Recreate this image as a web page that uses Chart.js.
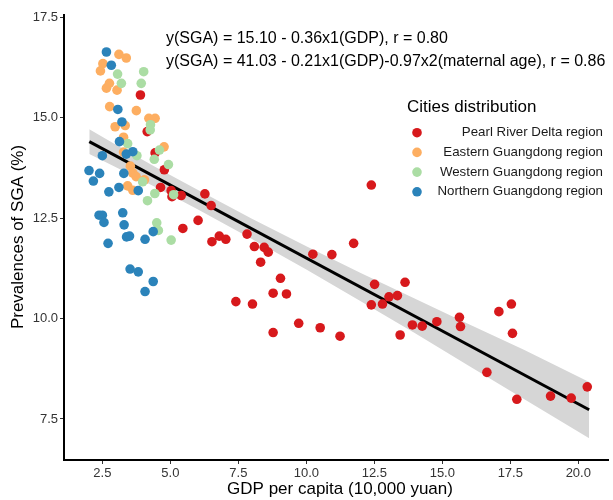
<!DOCTYPE html>
<html>
<head>
<meta charset="utf-8">
<script src="https://cdn.jsdelivr.net/npm/chart.js@4.4.1/dist/chart.umd.min.js"></script>
<style>
  html, body { margin: 0; padding: 0; background: #fff; }
  #wrap { width: 613px; height: 500px; }
</style>
</head>
<body>
<div id="wrap"><canvas id="grafico" width="613" height="500"></canvas></div>
<script>
// regiones y colores (paleta Spectral)
const regiones = ['Pearl River Delta region', 'Eastern Guangdong region', 'Western Guangdong region', 'Northern Guangdong region']
const colores = ['#D7191C', '#FDAE61', '#ABDDA4', '#2B83BA']

// Pearl River Delta
const rojoX = [3.90, 4.15, 4.44, 4.78, 4.64, 5.03, 5.06, 5.40, 6.27, 6.50, 6.02, 5.46, 6.53, 6.80, 7.04, 7.82, 8.09, 8.45, 8.60, 8.32,
  10.24, 10.94, 9.05, 8.78, 9.27, 7.41, 8.02, 9.72, 10.51, 8.78, 11.24, 12.39, 11.74, 12.51, 13.63, 13.04, 13.35, 12.39, 12.80,
  13.45, 13.90, 14.26, 14.80, 15.63, 15.67, 17.08, 17.54, 17.58, 16.64, 17.74, 18.98, 19.74, 20.33]
const rojoY = [15.56, 14.65, 14.12, 13.70, 13.26, 13.18, 13.03, 13.06, 13.10, 12.81, 12.44, 12.24, 11.91, 12.05, 11.97, 12.10, 11.79, 11.77, 11.65, 11.40,
  11.60, 11.59, 11.00, 10.63, 10.61, 10.42, 10.36, 9.88, 9.77, 9.65, 9.56, 13.32, 11.87, 10.85, 10.90, 10.54, 10.57, 10.34, 10.36,
  9.59, 9.84, 9.81, 9.92, 10.03, 9.80, 10.17, 10.36, 9.63, 8.66, 7.99, 8.07, 8.02, 8.30]

// Eastern Guangdong
const naranjaX = [3.11, 3.38, 2.52, 2.43, 2.76, 2.65, 3.04, 2.77, 3.75, 4.21, 4.44, 2.97, 3.34, 3.28, 4.77, 3.53, 3.62, 3.74, 4.05, 3.43, 3.62, 3.28]
const naranjaY = [16.57, 16.48, 16.34, 16.16, 15.85, 15.73, 15.68, 15.27, 15.17, 14.98, 14.98, 14.77, 14.80, 14.51, 14.27, 13.79, 13.62, 13.53, 13.45, 13.30, 13.19, 14.14]

// Western Guangdong
const verdeX = [3.06, 4.02, 3.20, 3.93, 4.27, 4.26, 3.43, 3.77, 4.60, 4.41, 4.93, 3.98, 4.43, 4.16, 5.12, 4.50, 4.56, 5.03]
const verdeY = [16.08, 16.14, 15.85, 15.85, 14.82, 14.69, 14.35, 14.05, 14.19, 13.96, 13.83, 13.40, 13.11, 12.93, 13.08, 12.38, 12.19, 11.95]

// Northern Guangdong
const azulX = [2.65, 2.83, 3.07, 3.22, 3.13, 3.62, 3.38, 2.50, 2.01, 2.40, 2.17, 3.29, 3.11, 2.74, 3.82, 2.38, 2.50, 2.56, 3.25, 3.30,
  3.39, 3.50, 2.71, 4.07, 4.37, 3.52, 3.82, 4.37, 4.07]
const azulY = [16.63, 16.30, 15.20, 14.89, 14.40, 14.15, 14.09, 14.05, 13.68, 13.61, 13.42, 13.61, 13.26, 13.15, 13.18, 12.57, 12.57, 12.39, 12.63, 12.33,
  12.03, 12.05, 11.87, 11.97, 12.16, 11.23, 11.16, 10.92, 10.67]

// recta de regresion y banda de confianza
const rectaX = [2.02, 20.40]
const rectaY = [14.40, 7.73]
const bandaX = [2.02, 3, 4.5, 6, 8, 10, 12, 14, 16, 18, 20.40]
const bandaArriba = [14.71, 14.32, 13.75, 13.20, 12.48, 11.80, 11.13, 10.49, 9.85, 9.22, 8.42]
const bandaAbajo = [14.09, 13.76, 13.25, 12.72, 11.98, 11.22, 10.43, 9.63, 8.81, 8.00, 7.02]

const ticksX = [2.5, 5.0, 7.5, 10.0, 12.5, 15.0, 17.5, 20.0]
const ticksY = [7.5, 10.0, 12.5, 15.0, 17.5]

const textos = ['y(SGA) = 15.10 - 0.36x1(GDP), r = 0.80', 'y(SGA) = 41.03 - 0.21x1(GDP)-0.97x2(maternal age), r = 0.86']

const fuente = '"Liberation Sans", Arial, sans-serif'

const puntos = (xs, ys) => xs.map((x, i) => ({ x: x, y: ys[i] }))

const serie = (i, xs, ys, orden) => ({
    label: regiones[i],
    data: puntos(xs, ys),
    backgroundColor: colores[i],
    borderWidth: 0,
    pointRadius: 4.8,
    order: orden
})

const extras = {
    id: 'extras',
    afterDraw(chart) {
        const c = chart.ctx
        c.save()
        c.fillStyle = '#000'
        c.textBaseline = 'middle'
        // ecuaciones
        c.font = '16px ' + fuente
        c.textAlign = 'left'
        c.fillText(textos[0], 166, 39)
        c.fillText(textos[1], 166, 62)
        // leyenda
        c.font = '17px ' + fuente
        c.fillText('Cities distribution', 407, 107)
        c.font = '13.3px ' + fuente
        c.textAlign = 'right'
        regiones.forEach((r, i) => {
            const y = 132.7 + i * 19.7
            c.fillStyle = colores[i]
            c.beginPath()
            c.arc(417, y, 4.8, 0, Math.PI * 2)
            c.fill()
            c.fillStyle = '#1a1a1a'
            c.fillText(r, 603, y)
        })
        // titulos de ejes
        c.fillStyle = '#000'
        c.font = '17px ' + fuente
        c.textAlign = 'center'
        c.fillText('GDP per capita (10,000 yuan)', 340, 489)
        c.translate(18, 237)
        c.rotate(-Math.PI / 2)
        c.fillText('Prevalences of SGA (%)', 0, 0)
        c.restore()
    }
}

const config = {
    type: 'scatter',
    data: {
        datasets: [
            serie(3, azulX, azulY, 1),
            serie(2, verdeX, verdeY, 2),
            serie(1, naranjaX, naranjaY, 3),
            serie(0, rojoX, rojoY, 4),
            {
                type: 'line',
                data: puntos(rectaX, rectaY),
                borderColor: '#000',
                borderWidth: 3,
                pointRadius: 0,
                order: 5
            },
            {
                type: 'line',
                data: puntos(bandaX, bandaArriba),
                borderWidth: 0,
                borderColor: 'rgba(0,0,0,0)',
                backgroundColor: '#D6D6D6',
                pointRadius: 0,
                fill: 6,
                order: 6
            },
            {
                type: 'line',
                data: puntos(bandaX, bandaAbajo),
                borderWidth: 0,
                borderColor: 'rgba(0,0,0,0)',
                pointRadius: 0,
                fill: false,
                order: 7
            }
        ]
    },
    options: {
        responsive: false,
        animation: false,
        layout: { padding: { top: 15, left: 0, right: 0, bottom: 0 } },
        plugins: { legend: { display: false }, tooltip: { enabled: false } },
        scales: {
            x: {
                type: 'linear',
                min: 1.09,
                max: 21.1,
                afterBuildTicks: (s) => { s.ticks = ticksX.map(v => ({ value: v })) },
                afterFit: (s) => { s.height = 40 },
                ticks: {
                    callback: (v) => v.toFixed(1),
                    color: '#333',
                    font: { family: fuente, size: 13 },
                    padding: 2,
                    maxRotation: 0,
                    autoSkip: false
                },
                grid: { drawOnChartArea: false, tickLength: 4, tickColor: '#333' },
                border: { color: '#000', width: 2 }
            },
            y: {
                type: 'linear',
                min: 6.48,
                max: 17.55,
                afterBuildTicks: (s) => { s.ticks = ticksY.map(v => ({ value: v })) },
                afterFit: (s) => { s.width = 64 },
                ticks: {
                    callback: (v) => v.toFixed(1),
                    color: '#333',
                    font: { family: fuente, size: 13 },
                    padding: 2,
                    autoSkip: false
                },
                grid: { drawOnChartArea: false, tickLength: 4, tickColor: '#333' },
                border: { color: '#000', width: 2 }
            }
        }
    },
    plugins: [extras]
}

const grafico = new Chart(document.querySelector('#grafico'), config)
</script>
</body>
</html>
